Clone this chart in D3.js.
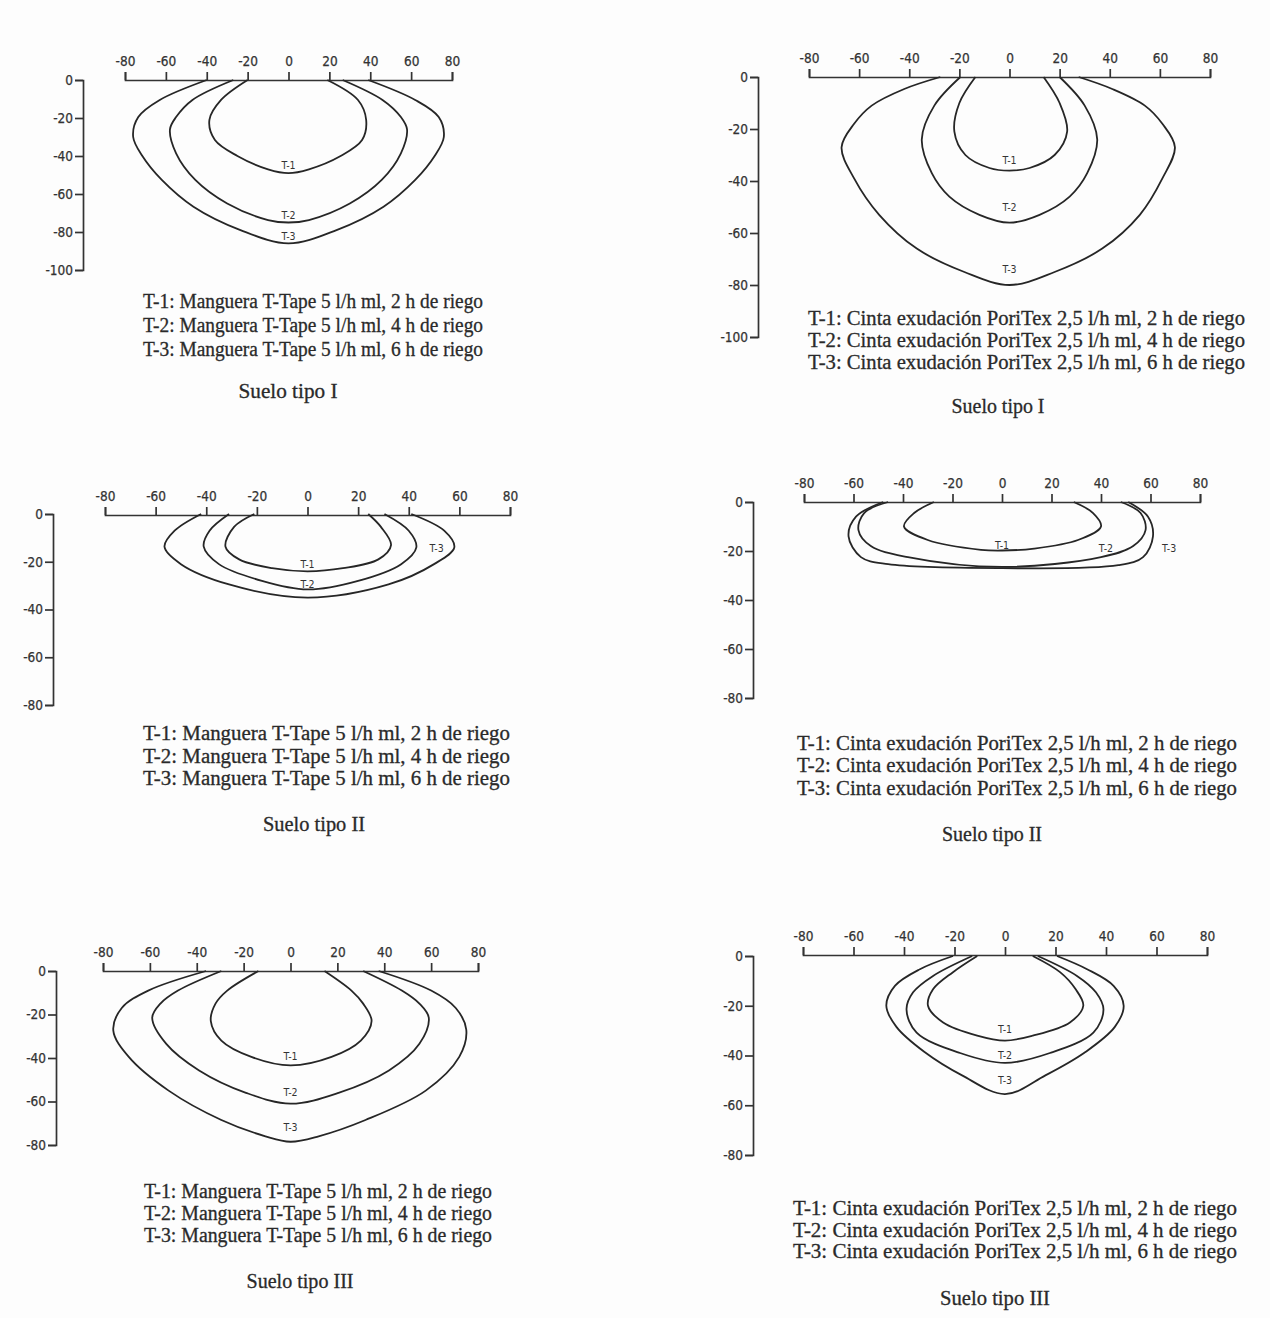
<!DOCTYPE html>
<html>
<head>
<meta charset="utf-8">
<script src="https://cdn.jsdelivr.net/npm/d3@7"></script>
<style>
	body { margin: 0; background: #fdfdfd; }
	.tick text { font-family: "Liberation Sans Narrow", "DejaVu Sans Condensed", "Liberation Sans", sans-serif; font-size: 13.5px; fill: #333; stroke: #333; stroke-width: 0.25; }
	.tick line, .domain { stroke: #333; stroke-width: 1.7; }
	.contour { fill: none; stroke: #262626; stroke-width: 1.8; }
	.tlabel { font-family: "Liberation Sans Narrow", "DejaVu Sans Condensed", sans-serif; font-size: 10.5px; fill: #333; }
	.legend { font-family: "Liberation Serif", "DejaVu Serif", serif; font-size: 20px; fill: #2a2a2a; stroke: #2a2a2a; stroke-width: 0.3; }
</style>
</head>
<body>
<div id="chart"></div>
<script>
(function() {
	var width = 1270
	var height = 1318

	var xTicks = [-80, -60, -40, -20, 0, 20, 40, 60, 80]
	var yTicks100 = [0, -20, -40, -60, -80, -100]
	var yTicks80 = [0, -20, -40, -60, -80]

	var legendTape = [
		"T-1: Manguera T-Tape 5 l/h ml, 2 h de riego",
		"T-2: Manguera T-Tape 5 l/h ml, 4 h de riego",
		"T-3: Manguera T-Tape 5 l/h ml, 6 h de riego"
	]
	var legendPori = [
		"T-1: Cinta exudación PoriTex 2,5 l/h ml, 2 h de riego",
		"T-2: Cinta exudación PoriTex 2,5 l/h ml, 4 h de riego",
		"T-3: Cinta exudación PoriTex 2,5 l/h ml, 6 h de riego"
	]
	var soilTitles = ["Suelo tipo I", "Suelo tipo I", "Suelo tipo II", "Suelo tipo II", "Suelo tipo III", "Suelo tipo III"]
	var seriesNames = ["T-1", "T-2", "T-3"]

	// wetting fronts [x cm, depth cm]
	var tapeSoil1 = [
		[[-20,0],[-33,-10.5],[-38.7,-21],[-36,-31.6],[-25,-40],[-10,-47],[0,-49],[10,-47],[25.5,-40],[36,-31.6],[38,-21],[34,-10.5],[19,0]],
		[[-27,0],[-47,-10.5],[-55,-19.5],[-58,-26],[-55,-38.6],[-45.6,-52.6],[-30,-65],[-10,-73.7],[0,-75],[10,-73.7],[30,-65],[45.6,-52.6],[55,-38.6],[58,-26],[55,-19.5],[46,-10.5],[26.5,0]],
		[[-40,0],[-63,-10.5],[-73.5,-19.5],[-76,-30],[-71.5,-40],[-62,-52.6],[-46.5,-66.7],[-23.5,-79],[0,-86],[23.5,-79],[46.5,-66.7],[62,-52.6],[71.5,-40],[76,-30],[73.5,-19.5],[62,-10.5],[39,0]]
	]
	var poriSoil1 = [
		[[-13.6,0],[-20,-10],[-22,-21],[-17.6,-30],[-8,-35],[0,-36],[8,-35],[18,-30],[23,-21],[20,-10],[13.6,0]],
		[[-19.6,0],[-30,-11],[-35,-24],[-31,-37],[-24,-46],[-12,-53],[0,-56],[12,-53],[24,-46],[31,-37],[35,-24],[30,-11],[20,0]],
		[[-27.6,0],[-42,-4.6],[-55,-11],[-62,-18],[-67,-27],[-62,-39],[-52,-53],[-37,-66],[-18,-75],[0,-80],[18,-75],[37,-66],[52,-53],[61,-39],[66,-27],[61,-18],[54,-11],[41,-4.6],[27.6,0]]
	]
	var tapeSoil2 = [
		[[-21,0],[-29,-5.4],[-32.4,-13.7],[-27,-19],[-14,-22.7],[0,-24],[14,-22.7],[28,-19],[33,-13],[29,-5.4],[24,0]],
		[[-31,0],[-38.7,-7],[-41,-13.7],[-35,-21],[-18,-28],[0,-31.6],[20,-28],[37,-21],[43,-14],[40,-7],[30.4,0]],
		[[-42,0],[-52.5,-7],[-56.5,-13.7],[-50,-21],[-31,-29.5],[0,-35],[32,-29.5],[50,-21],[58,-14],[54,-7],[41,0]]
	]
	var poriSoil2 = [
		[[-27.5,0],[-35.5,-4.5],[-39.6,-10],[-30,-15.5],[-8.5,-19.5],[0,-19.8],[13,-19],[30.7,-15.5],[40,-10],[36.8,-4.5],[29,0]],
		[[-46,0],[-55.7,-4.5],[-58,-11.5],[-53,-18],[-38,-22.5],[0,-26.5],[40,-22.5],[53,-18],[58,-11.5],[56,-4.5],[48,0]],
		[[-48,0],[-59,-6],[-62,-14],[-57,-22.5],[-46,-25.4],[0,-27],[47,-25.8],[57,-22.5],[61,-14],[59,-6],[51,0]]
	]
	var tapeSoil3 = [
		[[-13.7,0],[-27,-9],[-32,-15],[-34,-23],[-29.5,-32],[-16.7,-39.5],[0,-43.4],[17.5,-39.5],[30,-32],[34.6,-23],[31,-15],[26,-9],[14.5,0]],
		[[-29.5,0],[-48,-9],[-55.5,-15],[-59,-21.5],[-53,-33.5],[-39,-45.7],[-19,-56],[0,-61],[20.5,-56],[42,-45.7],[55,-33.5],[59,-21.5],[55,-15],[47.5,-9],[31,0]],
		[[-36,0],[-60.7,-9],[-72,-17],[-75.6,-27.4],[-69,-39.5],[-52,-55],[-29.5,-68.5],[-10.7,-76],[0,-78.5],[12,-76],[32,-68.5],[57.7,-55],[72,-39.5],[75,-27],[70.5,-17],[60,-9],[37.6,0]]
	]
	var poriSoil3 = [
		[[-11,0],[-20.6,-6.5],[-28.5,-13.4],[-30.5,-20],[-24.5,-26.7],[-11,-32],[0,-34],[11,-32],[25.7,-26.7],[31,-20],[28,-13.4],[21.8,-6.5],[11,0]],
		[[-13,0],[-28.5,-8],[-36.4,-14.6],[-39,-21.5],[-35,-30.8],[-17.8,-39],[0,-43],[17.8,-39],[35,-30.8],[39,-21.5],[36,-14.6],[28.5,-8],[13,0]],
		[[-20.6,0],[-33.7,-5.3],[-43.6,-12],[-47,-20],[-43,-28.5],[-32,-38.5],[-17,-48],[0,-55.5],[16,-48],[32,-38.5],[43.5,-28.5],[47,-20],[43,-12],[32.5,-5.3],[20.6,0]]
	]

	// label positions [x, depth]
	var labelPos = [
		[[0,-45],[0,-71],[0,-82.5]],
		[[0,-32],[0,-50],[0,-74]],
		[[0,-21],[0,-29.5],[51,-14.5]],
		[[0,-17.5],[42,-19],[67.5,-19]],
		[[0,-39],[0,-56],[0,-72]],
		[[0,-29.5],[0,-40],[0,-50]]
	]

	var panels = [
		{ fronts: tapeSoil1, legend: legendTape, yTicks: yTicks100, xr: [125, 452], axisY: 80, yr: [80, 270], yAxisX: 83,
			legX: 143, legW: 340, legY: [308, 332, 356], titleX: 288, titleY: 398, titleW: 99 },
		{ fronts: poriSoil1, legend: legendPori, yTicks: yTicks100, xr: [809, 1210], axisY: 77, yr: [77, 337], yAxisX: 758,
			legX: 808, legW: 437, legY: [325, 347, 369], titleX: 998, titleY: 413, titleW: 93 },
		{ fronts: tapeSoil2, legend: legendTape, yTicks: yTicks80, xr: [105, 510], axisY: 515, yr: [514, 705], yAxisX: 53,
			legX: 143, legW: 367, legY: [740, 763, 785], titleX: 314, titleY: 831, titleW: 102 },
		{ fronts: poriSoil2, legend: legendPori, yTicks: yTicks80, xr: [804, 1200], axisY: 502, yr: [502, 698], yAxisX: 753,
			legX: 797, legW: 440, legY: [750, 772, 795], titleX: 992, titleY: 841, titleW: 100 },
		{ fronts: tapeSoil3, legend: legendTape, yTicks: yTicks80, xr: [103, 478], axisY: 971, yr: [971, 1145], yAxisX: 56,
			legX: 144, legW: 348, legY: [1198, 1220, 1242], titleX: 300, titleY: 1288, titleW: 107 },
		{ fronts: poriSoil3, legend: legendPori, yTicks: yTicks80, xr: [803, 1207], axisY: 955, yr: [956, 1155], yAxisX: 753,
			legX: 793, legW: 444, legY: [1215, 1237, 1258], titleX: 995, titleY: 1305, titleW: 110 }
	]

	var svg = d3.select("#chart")
		.append("svg")
		.attr("width", width)
		.attr("height", height)

	svg.append("rect")
		.attr("width", width)
		.attr("height", height)
		.attr("fill", "#fdfdfd")

	panels.forEach(function(p, i) {
		var x = d3.scaleLinear().domain([-80, 80]).range(p.xr)
		var y = d3.scaleLinear().domain([0, p.yTicks[p.yTicks.length - 1]]).range(p.yr)
		var g = svg.append("g")

		g.append("g")
			.attr("transform", "translate(0," + p.axisY + ")")
			.call(d3.axisTop(x).tickValues(xTicks).tickSize(8).tickPadding(6).tickFormat(function(d) { return String(d) }))

		g.append("g")
			.attr("transform", "translate(" + p.yAxisX + ",0)")
			.call(d3.axisLeft(y).tickValues(p.yTicks).tickSize(8).tickPadding(2).tickFormat(function(d) { return String(d) }))

		var line = d3.line()
			.x(function(d) { return x(d[0]) })
			.y(function(d) { return y(d[1]) })
			.curve(d3.curveCatmullRom.alpha(0.5))

		g.selectAll(".contour")
			.data(p.fronts)
			.enter().append("path")
			.attr("class", "contour")
			.attr("d", line)

		g.selectAll(".tlabel")
			.data(labelPos[i])
			.enter().append("text")
			.attr("class", "tlabel")
			.attr("x", function(d) { return x(d[0]) })
			.attr("y", function(d) { return y(d[1]) })
			.attr("dy", "0.35em")
			.attr("text-anchor", "middle")
			.text(function(d, j) { return seriesNames[j] })

		g.selectAll(".legline")
			.data(p.legend)
			.enter().append("text")
			.attr("class", "legend legline")
			.attr("x", p.legX)
			.attr("y", function(d, j) { return p.legY[j] })
			.attr("textLength", p.legW)
			.attr("lengthAdjust", "spacingAndGlyphs")
			.text(function(d) { return d })

		g.append("text")
			.attr("class", "legend")
			.attr("x", p.titleX - p.titleW / 2)
			.attr("y", p.titleY)
			.attr("textLength", p.titleW)
			.attr("lengthAdjust", "spacingAndGlyphs")
			.text(soilTitles[i])
	})
})();
</script>
</body>
</html>
